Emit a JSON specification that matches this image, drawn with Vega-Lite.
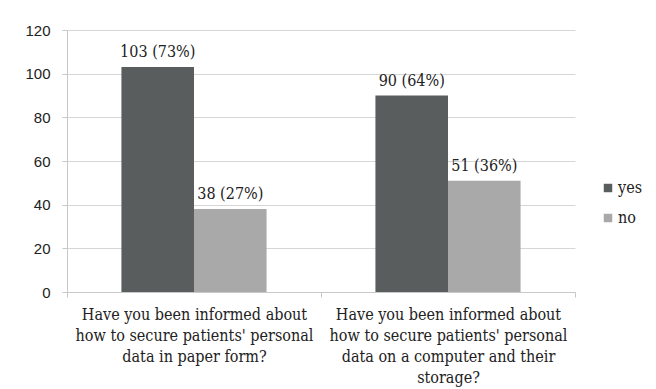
{
  "$schema": "https://vega.github.io/schema/vega-lite/v6.json",
  "autosize": "none",
  "width": 508,
  "height": 262,
  "padding": {"left": 67, "top": 30, "right": 81, "bottom": 97},
  "background": "white",
  "data": {
    "values": [
      {"question": "Have you been informed about|how to secure patients' personal|data in paper form?", "answer": "yes", "count": 103, "label": "103 (73%)"},
      {"question": "Have you been informed about|how to secure patients' personal|data in paper form?", "answer": "no", "count": 38, "label": "38 (27%)"},
      {"question": "Have you been informed about|how to secure patients' personal|data on a computer and their|storage?", "answer": "yes", "count": 90, "label": "90 (64%)"},
      {"question": "Have you been informed about|how to secure patients' personal|data on a computer and their|storage?", "answer": "no", "count": 51, "label": "51 (36%)"}
    ]
  },
  "encoding": {
    "x": {
      "field": "question", "type": "nominal", "sort": null,
      "scale": {"paddingInner": 0, "paddingOuter": 0},
      "axis": {
        "title": null, "labelAngle": 0, "tickBand": "extent",
        "labelExpr": "split(datum.label, '|')",
        "labelFont": "DejaVu Serif Condensed", "labelFontSize": 16, "labelLineHeight": 21,
        "labelColor": "#222222", "labelPadding": 9, "labelLimit": 400,
        "domainColor": "#c8c8c8", "tickColor": "#c8c8c8", "tickSize": 5
      }
    },
    "xOffset": {"field": "answer", "type": "nominal", "sort": ["yes", "no"], "scale": {"paddingInner": 0, "paddingOuter": 0.75}},
    "y": {
      "field": "count", "type": "quantitative",
      "scale": {"domain": [0, 120]},
      "axis": {
        "title": null, "values": [0, 20, 40, 60, 80, 100, 120],
        "labelFont": "Liberation Sans", "labelFontSize": 15, "labelColor": "#222222", "labelPadding": 12,
        "domainColor": "#c8c8c8", "tickColor": "#c8c8c8", "tickSize": 5,
        "gridColor": "#d6d6d6", "grid": true
      }
    }
  },
  "layer": [
    {
      "mark": {"type": "bar"},
      "encoding": {
        "color": {
          "field": "answer", "type": "nominal", "sort": ["yes", "no"],
          "scale": {"domain": ["yes", "no"], "range": ["#5a5d5d", "#a9a9a9"]},
          "legend": {
            "title": null, "orient": "none", "legendX": 533, "legendY": 150,
            "symbolType": "square", "symbolSize": 72, "symbolStrokeWidth": 0,
            "labelFont": "DejaVu Serif Condensed", "labelFontSize": 16, "labelColor": "#222222",
            "labelOffset": 2, "rowPadding": 14
          }
        }
      }
    },
    {
      "mark": {"type": "text", "baseline": "alphabetic", "dy": -10, "font": "DejaVu Serif Condensed", "fontSize": 16, "color": "#222222"},
      "encoding": {"text": {"field": "label"}}
    }
  ],
  "config": {"view": {"stroke": null}}
}
